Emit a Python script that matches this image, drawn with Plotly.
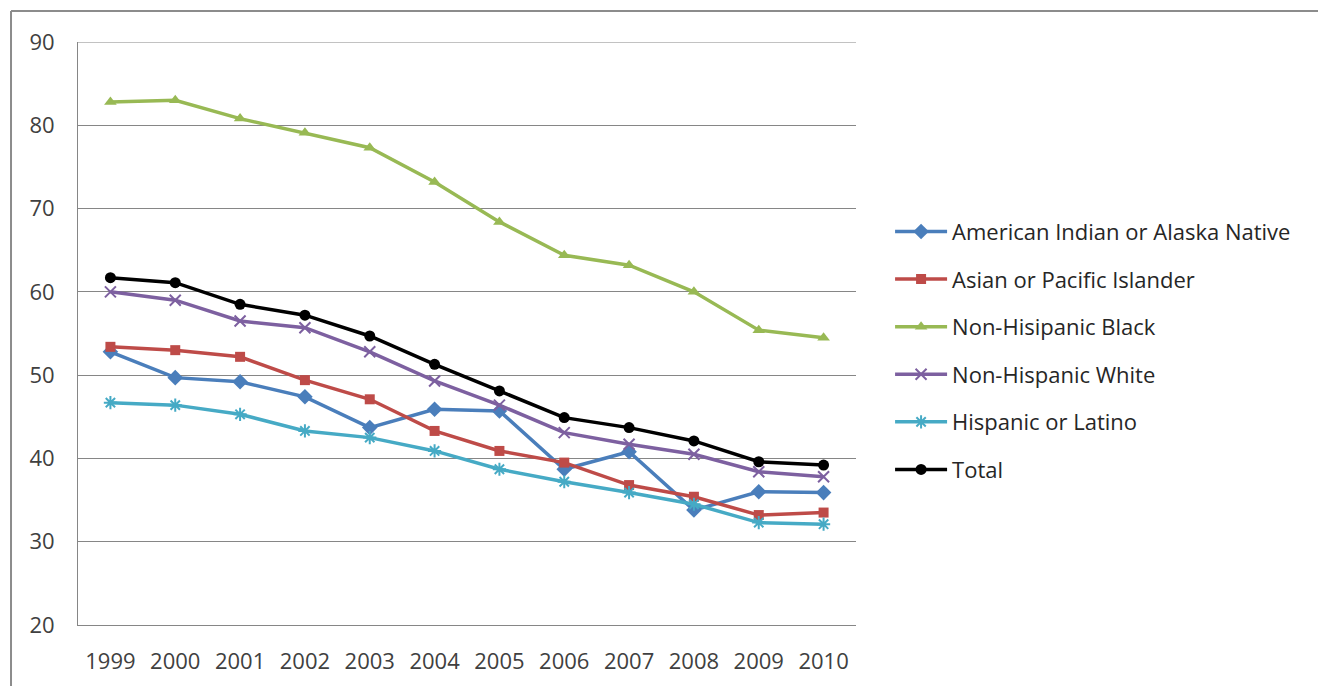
import plotly.graph_objects as go

years = ["1999", "2000", "2001", "2002", "2003", "2004",
         "2005", "2006", "2007", "2008", "2009", "2010"]

american_indian = [52.8, 49.7, 49.2, 47.4, 43.7, 45.9, 45.7, 38.7, 40.8, 33.8, 36.0, 35.9]
asian_pacific = [53.4, 53.0, 52.2, 49.4, 47.1, 43.3, 40.9, 39.5, 36.8, 35.4, 33.2, 33.5]
nh_black = [82.8, 83.0, 80.8, 79.1, 77.3, 73.2, 68.4, 64.4, 63.2, 60.0, 55.4, 54.5]
nh_white = [60.0, 59.0, 56.5, 55.7, 52.8, 49.3, 46.4, 43.1, 41.7, 40.5, 38.4, 37.8]
hispanic = [46.7, 46.4, 45.3, 43.3, 42.5, 40.9, 38.7, 37.2, 35.9, 34.5, 32.3, 32.1]
total = [61.7, 61.1, 58.5, 57.2, 54.7, 51.3, 48.1, 44.9, 43.7, 42.1, 39.6, 39.2]

series = [
    ("American Indian or Alaska Native", american_indian, "#4A7EBB", "diamond", 12),
    ("Asian or Pacific Islander", asian_pacific, "#BE4B48", "square", 10),
    ("Non-Hisipanic Black", nh_black, "#98B954", "triangle-up", 11),
    ("Non-Hispanic White", nh_white, "#7D60A0", "x-thin-open", 11),
    ("Hispanic or Latino", hispanic, "#46AAC5", "asterisk-open", 11),
    ("Total", total, "#000000", "circle", 11),
]

FONT = "Open Sans, Carlito, Calibri, sans-serif"

fig = go.Figure()
for i, (name, vals, color, sym, size) in enumerate(series):
    open_sym = sym.endswith("-open")
    fig.add_trace(go.Scatter(
        x=years, y=vals, name=name, mode="lines+markers",
        legendgroup=f"g{i}",
        line=dict(color=color, width=3.5),
        marker=dict(symbol=sym, size=size, color=color,
                    line=dict(color=color, width=2 if open_sym else 0)),
    ))

# top gridline at 90 across the plot area
fig.add_shape(type="line", xref="paper", yref="y",
              x0=0, x1=1, y0=90, y1=90,
              line=dict(color="#868686", width=1), layer="below")

# outer chart border (left and top edges visible)
fig.add_shape(type="line", xref="paper", yref="paper",
              x0=-0.0861, x1=2.0, y0=1.0532, y1=1.0532,
              line=dict(color="#8C8C8C", width=2))
fig.add_shape(type="line", xref="paper", yref="paper",
              x0=-0.0861, x1=-0.0861, y0=1.0532, y1=-0.3,
              line=dict(color="#8C8C8C", width=2))

fig.update_layout(
    width=1318, height=686,
    margin=dict(l=78, r=462, t=42, b=61),
    paper_bgcolor="white", plot_bgcolor="white",
    font=dict(family=FONT, size=22, color="#404040"),
    showlegend=True,
    legend=dict(
        x=1.0438, xanchor="left", y=0.7107, yanchor="top",
        font=dict(family=FONT, size=22, color="#262626"),
        tracegroupgap=16, itemwidth=52, bgcolor="rgba(0,0,0,0)",
    ),
    xaxis=dict(
        type="category", showgrid=False, showline=True,
        linecolor="#868686", linewidth=1, ticks="",
        ticklabelstandoff=17,
        tickfont=dict(family=FONT, size=22, color="#404040"),
        range=[-0.5, 11.5], fixedrange=True,
    ),
    yaxis=dict(
        range=[20, 90], dtick=10, showgrid=True,
        gridcolor="#868686", gridwidth=1,
        showline=True, linecolor="#868686", linewidth=1,
        ticks="", ticklabelstandoff=18,
        tickfont=dict(family=FONT, size=22, color="#404040"),
        zeroline=False, fixedrange=True,
    ),
)

fig.write_html("out.html")
